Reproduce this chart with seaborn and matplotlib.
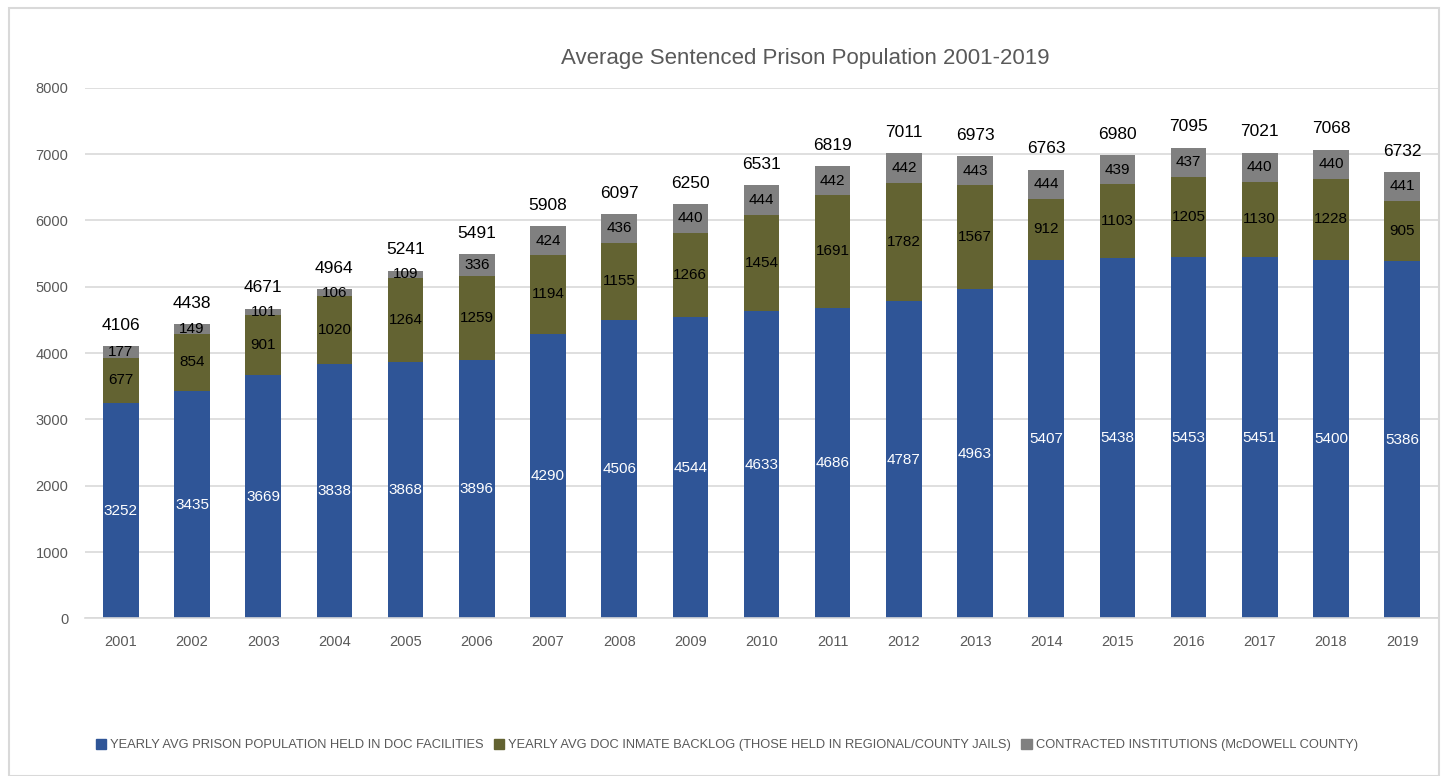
import numpy as np
import pandas as pd
import matplotlib
matplotlib.use("Agg")
import matplotlib.pyplot as plt
import seaborn as sns
from matplotlib.patches import Rectangle

years = [str(y) for y in range(2001, 2020)]
doc_facilities = [3252, 3435, 3669, 3838, 3868, 3896, 4290, 4506, 4544, 4633,
                  4686, 4787, 4963, 5407, 5438, 5453, 5451, 5400, 5386]
backlog = [677, 854, 901, 1020, 1264, 1259, 1194, 1155, 1266, 1454,
           1691, 1782, 1567, 912, 1103, 1205, 1130, 1228, 905]
contracted = [177, 149, 101, 106, 109, 336, 424, 436, 440, 444,
              442, 442, 443, 444, 439, 437, 440, 440, 441]

series_names = [
    "YEARLY AVG PRISON POPULATION HELD IN DOC FACILITIES",
    "YEARLY AVG DOC INMATE BACKLOG (THOSE HELD IN REGIONAL/COUNTY JAILS)",
    "CONTRACTED INSTITUTIONS (McDOWELL COUNTY)",
]
colors = ["#2F5597", "#636332", "#808080"]

df = pd.DataFrame({
    "year": years,
    "doc": doc_facilities,
    "backlog": backlog,
    "contracted": contracted,
})
df["lvl2"] = df["doc"] + df["backlog"]
df["total"] = df["lvl2"] + df["contracted"]

sns.set_style("white")
plt.rcParams["font.family"] = ["Liberation Sans", "DejaVu Sans"]

fig = plt.figure(figsize=(14.45, 7.76), dpi=100)
ax = fig.add_axes([0.059, 0.203, 0.936, 0.684])

# stacked bars drawn as layered cumulative heights
for col, c in zip(["total", "lvl2", "doc"], colors[::-1]):
    sns.barplot(data=df, x="year", y=col, color=c, width=0.5,
                saturation=1, ax=ax, edgecolor="none")

x = np.arange(len(years))
for i in x:
    d, b, c, t = df.loc[i, ["doc", "backlog", "contracted", "total"]]
    ax.text(i, d / 2, f"{d}", ha="center", va="center", color="white", fontsize=11)
    ax.text(i, d + b / 2, f"{b}", ha="center", va="center", color="black", fontsize=11)
    ax.text(i, d + b + c / 2, f"{c}", ha="center", va="center", color="black", fontsize=11)
    ax.text(i, t + 200, f"{t}", ha="center", va="bottom", color="black", fontsize=12.5)

ax.set_ylim(0, 8000)
ax.set_xlim(-0.5, len(years) - 0.5)
ax.set_yticks(range(0, 8001, 1000))
ax.yaxis.grid(True, color="#D9D9D9", linewidth=1.2)
ax.set_axisbelow(True)
for s in ["top", "right", "left"]:
    ax.spines[s].set_visible(False)
ax.spines["bottom"].set_color("#D9D9D9")
ax.spines["bottom"].set_linewidth(1.2)
ax.tick_params(axis="both", length=0, labelsize=10.5, labelcolor="#595959", pad=12)
ax.set_xlabel("")
ax.set_ylabel("")

fig.text(0.557, 0.925, "Average Sentenced Prison Population 2001-2019",
         ha="center", va="center", fontsize=16, color="#595959")

handles = [Rectangle((0, 0), 1, 1, color=c) for c in colors]
fig.legend(handles, series_names, loc="center", bbox_to_anchor=(0.503, 0.04),
           ncol=3, frameon=False, fontsize=9.3, handlelength=0.8, handleheight=0.8,
           handletextpad=0.3, columnspacing=0.8, labelcolor="#595959")

fig.patches.append(Rectangle((0.006, 0.0), 0.99, 0.99, transform=fig.transFigure,
                             fill=False, edgecolor="#D9D9D9", linewidth=1.5))

fig.savefig("out.png", dpi=100)
